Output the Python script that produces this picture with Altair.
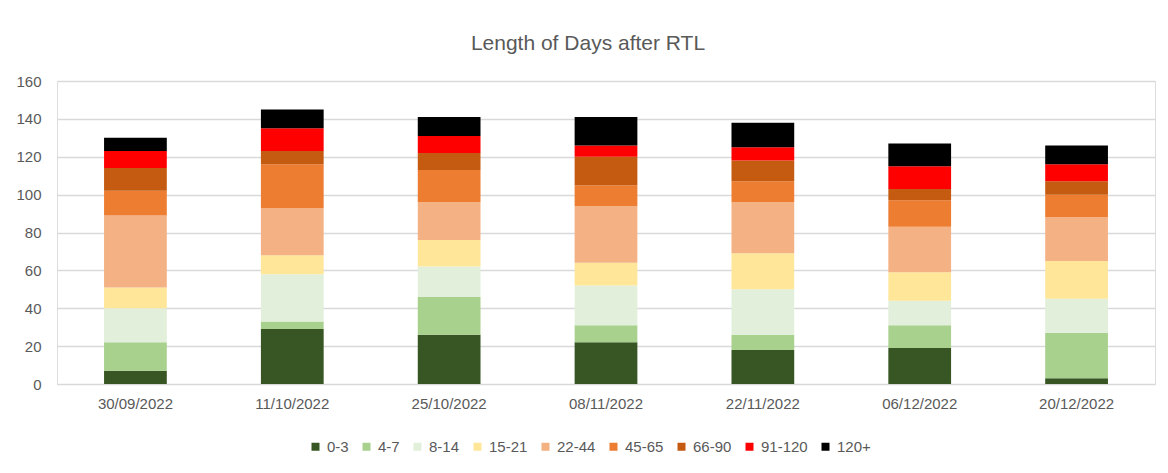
import altair as alt
import pandas as pd

dates = ["30/09/2022", "11/10/2022", "25/10/2022", "08/11/2022",
         "22/11/2022", "06/12/2022", "20/12/2022"]
groups = ["0-3", "4-7", "8-14", "15-21", "22-44", "45-65", "66-90", "91-120", "120+"]
colors = ["#375623", "#a9d18e", "#e2efda", "#ffe699", "#f4b183",
          "#ed7d31", "#c55a11", "#ff0000", "#000000"]

v_0_3    = [7, 29, 26, 22, 18, 19, 3]
v_4_7    = [15, 4, 20, 9, 8, 12, 24]
v_8_14   = [18, 25, 16, 21, 24, 13, 18]
v_15_21  = [11, 10, 14, 12, 19, 15, 20]
v_22_44  = [38, 25, 20, 30, 27, 24, 23]
v_45_65  = [13, 23, 17, 11, 11, 14, 12]
v_66_90  = [12, 7, 9, 15, 11, 6, 7]
v_91_120 = [9, 12, 9, 6, 7, 12, 9]
v_120p   = [7, 10, 10, 15, 13, 12, 10]

series = [v_0_3, v_4_7, v_8_14, v_15_21, v_22_44, v_45_65, v_66_90, v_91_120, v_120p]

rows = []
for gi, (g, vals) in enumerate(zip(groups, series)):
    for d, v in zip(dates, vals):
        rows.append({"date": d, "group": g, "idx": gi, "value": v})
df = pd.DataFrame(rows)

FONT = "Liberation Sans"
GRAY = "#595959"

chart = alt.Chart(df).mark_bar().encode(
    x=alt.X("date:N", sort=dates, title=None,
            scale=alt.Scale(paddingInner=0.6, paddingOuter=0.3),
            axis=alt.Axis(labelAngle=0, labelFont=FONT, labelFontSize=15,
                          labelColor=GRAY, ticks=False, domain=False,
                          labelPadding=12, grid=False)),
    y=alt.Y("value:Q", stack="zero", title=None,
            scale=alt.Scale(domain=[0, 160], nice=False),
            axis=alt.Axis(values=[0, 20, 40, 60, 80, 100, 120, 140, 160],
                          labelFont=FONT, labelFontSize=15, labelColor=GRAY,
                          ticks=False, domain=False, labelPadding=16,
                          gridColor="#d9d9d9", gridWidth=1.5)),
    color=alt.Color("group:N", sort=groups,
                    scale=alt.Scale(domain=groups, range=colors),
                    legend=alt.Legend(title=None, orient="none", direction="horizontal",
                                      columns=9, legendX=251, legendY=358,
                                      symbolType="square", symbolSize=64,
                                      symbolStrokeWidth=0, labelOffset=4,
                                      columnPadding=10, padding=0,
                                      labelFont=FONT, labelFontSize=15,
                                      labelColor=GRAY)),
    order=alt.Order("idx:Q", sort="ascending"),
).properties(
    width=1098, height=303,
    title=alt.TitleParams("Length of Days after RTL", font=FONT, fontSize=21,
                          fontWeight="normal", color=GRAY, anchor="middle",
                          frame="group", baseline="alphabetic", offset=3, dx=-18),
    autosize=alt.AutoSizeParams(type="none"),
    padding={"left": 49, "top": 73, "right": 5, "bottom": 81},
).configure_view(stroke=None).configure(background="white")

chart.save("out.html", embed_options={"renderer": "svg", "actions": False})
